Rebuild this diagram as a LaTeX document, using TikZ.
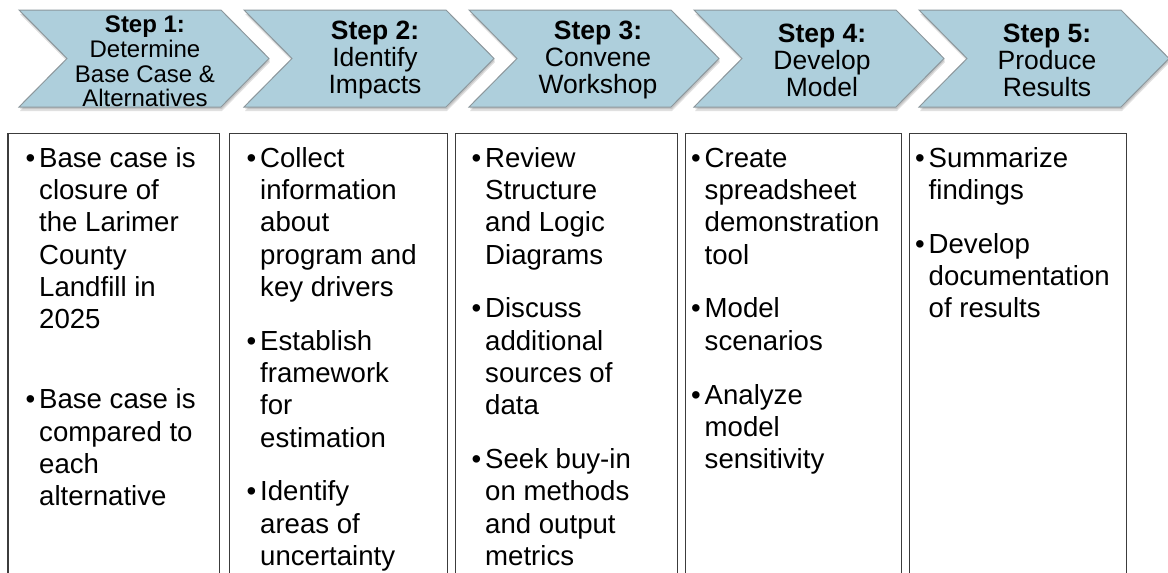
\documentclass[tikz,border=0pt]{standalone}
\usepackage{fontspec}
\setmainfont{Liberation Sans}
\definecolor{chevfill}{HTML}{AECFDC}
\definecolor{chevline}{HTML}{8C979C}
\definecolor{boxline}{HTML}{3C3C3C}
\tikzset{
  chev/.style={draw=chevline, fill=chevfill, line width=1pt, line join=miter},
  chevshadow/.style={fill=black, opacity=0.12},
  steplabel/.style={align=center, inner sep=0pt, font=\fontsize{26.5}{27}\selectfont},
  colbox/.style={draw=boxline, line width=1.2pt, anchor=north west, minimum height=470pt, inner sep=0pt},
  itemlist/.style={align=left, inner sep=0pt, anchor=north west, font=\fontsize{27.6}{32.3}\selectfont},
}
\newcommand{\bul}{\rule{0pt}{25pt}\llap{•\hspace{4pt}}}
\newcommand{\nbul}{\llap{•\hspace{4pt}}}
\begin{document}
\begin{tikzpicture}[x=1pt,y=-1pt]
        \path[use as bounding box] (0,0) rectangle (1168,573);
        \clip (0,0) rectangle (1168,573);

        %Shapes: chevrons with soft shadow
        \foreach \x in {19,244,469,694,919}{
          \fill[chevshadow] (\x+1,14) -- (\x+203,14) -- (\x+251,62) -- (\x+203,111) -- (\x+1,111) -- (\x+49,62) -- cycle;
          \fill[chevshadow] (\x+1,12) -- (\x+203,12) -- (\x+251,60) -- (\x+203,109) -- (\x+1,109) -- (\x+49,60) -- cycle;
          \draw[chev] (\x,10) -- (\x+202,10) -- (\x+250,58.5) -- (\x+202,107) -- (\x,107) -- (\x+48,58.5) -- cycle;
        }

        %Step labels
        \node[steplabel, font=\fontsize{24}{24.6}\selectfont] (step1) at (145,61.5) {\textbf{Step 1:}\\Determine\\Base Case \&\\Alternatives};
        \node[steplabel] (step2) at (375,60) {\textbf{Step 2:}\\Identify\\Impacts};
        \node[steplabel] (step3) at (598,60) {\textbf{Step 3:}\\Convene\\Workshop};
        \node[steplabel] (step4) at (822,60) {\textbf{Step 4:}\\Develop\\Model};
        \node[steplabel] (step5) at (1047,60) {\textbf{Step 5:}\\Produce\\Results};

        %Shapes: open columns below the steps
        \node[colbox, minimum width=211.7] (col1) at (7.3,133) {};
        \node[colbox, minimum width=217.5] (col2) at (229,133) {};
        \node[colbox, minimum width=221.5] (col3) at (455,133) {};
        \node[colbox, minimum width=216] (col4) at (685,133) {};
        \node[colbox, minimum width=217] (col5) at (909,133) {};

        %Bullet lists
        \node[itemlist] (list1) at (39,142) {\bul Base case is\\closure of\\the Larimer\\County\\Landfill in\\2025\\[47.7pt]\nbul Base case is\\compared to\\each\\alternative};
        \node[itemlist] (list2) at (260,142) {\bul Collect\\information\\about\\program and\\key drivers\\[21.5pt]\nbul Establish\\framework\\for\\estimation\\[21.5pt]\nbul Identify\\areas of\\uncertainty};
        \node[itemlist] (list3) at (485,142) {\bul Review\\Structure\\and Logic\\Diagrams\\[21.5pt]\nbul Discuss\\additional\\sources of\\data\\[21.5pt]\nbul Seek buy-in\\on methods\\and output\\metrics};
        \node[itemlist] (list4) at (704.5,142) {\bul Create\\spreadsheet\\demonstration\\tool\\[21.5pt]\nbul Model\\scenarios\\[21.5pt]\nbul Analyze\\model\\sensitivity};
        \node[itemlist] (list5) at (928.5,142) {\bul Summarize\\findings\\[21.5pt]\nbul Develop\\documentation\\of results};
\end{tikzpicture}
\end{document}
